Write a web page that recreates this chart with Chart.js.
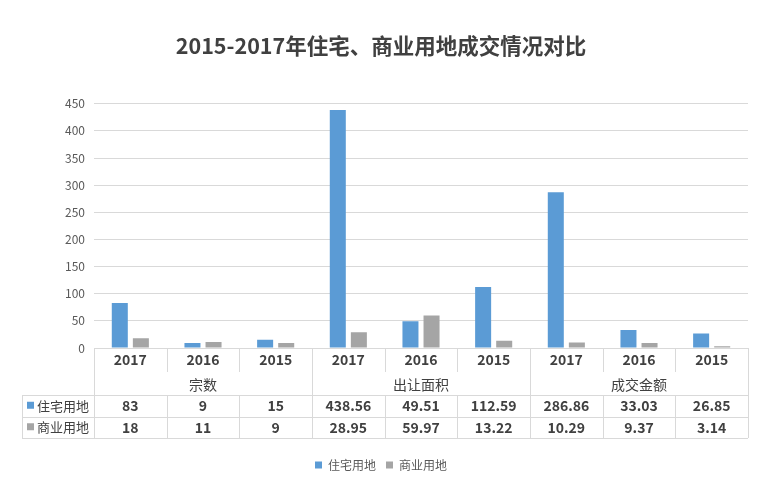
<!DOCTYPE html>
<html>
<head>
<meta charset="utf-8">
<script src="https://cdn.jsdelivr.net/npm/chart.js@4/dist/chart.umd.min.js"></script>
<style>
  html, body { margin: 0; padding: 0; background: #fff; }
  #wrap { width: 760px; height: 483px; position: relative; }
</style>
</head>
<body>
<div id="wrap"><canvas id="chart"></canvas></div>
<script>
// data
const years = ['2017', '2016', '2015', '2017', '2016', '2015', '2017', '2016', '2015'];
const groups = ['宗数', '出让面积', '成交金额'];
const seriesNames = ['住宅用地', '商业用地'];
const residential = [83, 9, 15, 438.56, 49.51, 112.59, 286.86, 33.03, 26.85];
const commercial = [18, 11, 9, 28.95, 59.97, 13.22, 10.29, 9.37, 3.14];
const yMax = 450;
const yStep = 50;

const colors = ['#5B9BD5', '#A5A5A5'];
const font = '"Noto Sans CJK SC", "Noto Sans", sans-serif';

// draws the data table under the x axis, aligned to the category scale
const dataTable = {
    id: 'dataTable',
    afterDraw(chart) {
        const ctx = chart.ctx;
        const x = chart.scales.x;
        const top = x.top;
        const w = (x.right - x.left) / years.length;
        const rows = [top, top + 24, top + 47, top + 68.5, top + 90];
        const labelLeft = 22;
        const px = v => Math.round(v) + 0.5;

        ctx.save();
        ctx.strokeStyle = '#d9d9d9';
        ctx.lineWidth = 1;
        ctx.beginPath();
        [rows[2], rows[3], rows[4]].forEach(r => {
            ctx.moveTo(labelLeft, px(r));
            ctx.lineTo(x.right, px(r));
        });
        for (let i = 0; i <= years.length; i++) {
            const cx = px(x.left + i * w);
            if (i % 3 === 0) {
                ctx.moveTo(cx, rows[0]);
                ctx.lineTo(cx, rows[4]);
            } else {
                ctx.moveTo(cx, rows[0]);
                ctx.lineTo(cx, rows[1]);
                ctx.moveTo(cx, rows[2]);
                ctx.lineTo(cx, rows[4]);
            }
        }
        ctx.moveTo(px(labelLeft), rows[2]);
        ctx.lineTo(px(labelLeft), rows[4]);
        ctx.stroke();

        ctx.textAlign = 'center';
        ctx.textBaseline = 'middle';
        ctx.fillStyle = '#404040';
        ctx.font = 'bold 14px ' + font;
        years.forEach((y, i) => {
            ctx.fillText(y, x.getPixelForValue(i), (rows[0] + rows[1]) / 2);
        });

        ctx.font = '14px ' + font;
        groups.forEach((g, i) => {
            const mid = (x.getPixelForValue(i * 3) + x.getPixelForValue(i * 3 + 2)) / 2;
            ctx.fillText(g, mid, (rows[1] + rows[2]) / 2 + 1);
        });

        ctx.font = 'bold 14px ' + font;
        [residential, commercial].forEach((vals, r) => {
            const cy = (rows[2 + r] + rows[3 + r]) / 2;
            vals.forEach((v, i) => {
                ctx.fillText(String(v), x.getPixelForValue(i), cy);
            });
        });

        ctx.textAlign = 'left';
        ctx.font = '13px ' + font;
        seriesNames.forEach((name, r) => {
            const cy = (rows[2 + r] + rows[3 + r]) / 2;
            ctx.fillStyle = colors[r];
            ctx.fillRect(labelLeft + 5, cy - 4, 7, 7);
            ctx.fillStyle = '#404040';
            ctx.fillText(name, labelLeft + 15, cy);
        });
        ctx.restore();
    }
};

new Chart(document.getElementById('chart'), {
    type: 'bar',
    data: {
        labels: years,
        datasets: [{
            label: seriesNames[0],
            data: residential,
            backgroundColor: colors[0]
        }, {
            label: seriesNames[1],
            data: commercial,
            backgroundColor: colors[1]
        }]
    },
    options: {
        responsive: true,
        maintainAspectRatio: false,
        animation: false,
        categoryPercentage: 0.58,
        barPercentage: 0.76,
        layout: { padding: { left: 14, right: 12, top: 0, bottom: 2 } },
        plugins: {
            title: {
                display: true,
                text: '2015-2017年住宅、商业用地成交情况对比',
                color: '#404040',
                font: { family: font, size: 21.5, weight: 'bold' },
                padding: { top: 33, bottom: 45 }
            },
            legend: {
                display: true,
                position: 'bottom',
                labels: {
                    boxWidth: 7,
                    boxHeight: 7,
                    padding: 10,
                    color: '#595959',
                    font: { family: font, size: 12 }
                }
            },
            tooltip: { enabled: false }
        },
        scales: {
            x: {
                grid: { display: false },
                border: { display: true, color: '#d9d9d9' },
                ticks: { display: false },
                afterFit: s => { s.height = 101; }
            },
            y: {
                min: 0,
                max: yMax,
                ticks: {
                    stepSize: yStep,
                    color: '#595959',
                    padding: 9,
                    font: { family: font, size: 12 }
                },
                grid: { color: '#d9d9d9', drawTicks: false },
                border: { display: false },
                afterFit: s => { s.width = 80; }
            }
        }
    },
    plugins: [dataTable]
});
</script>
</body>
</html>
